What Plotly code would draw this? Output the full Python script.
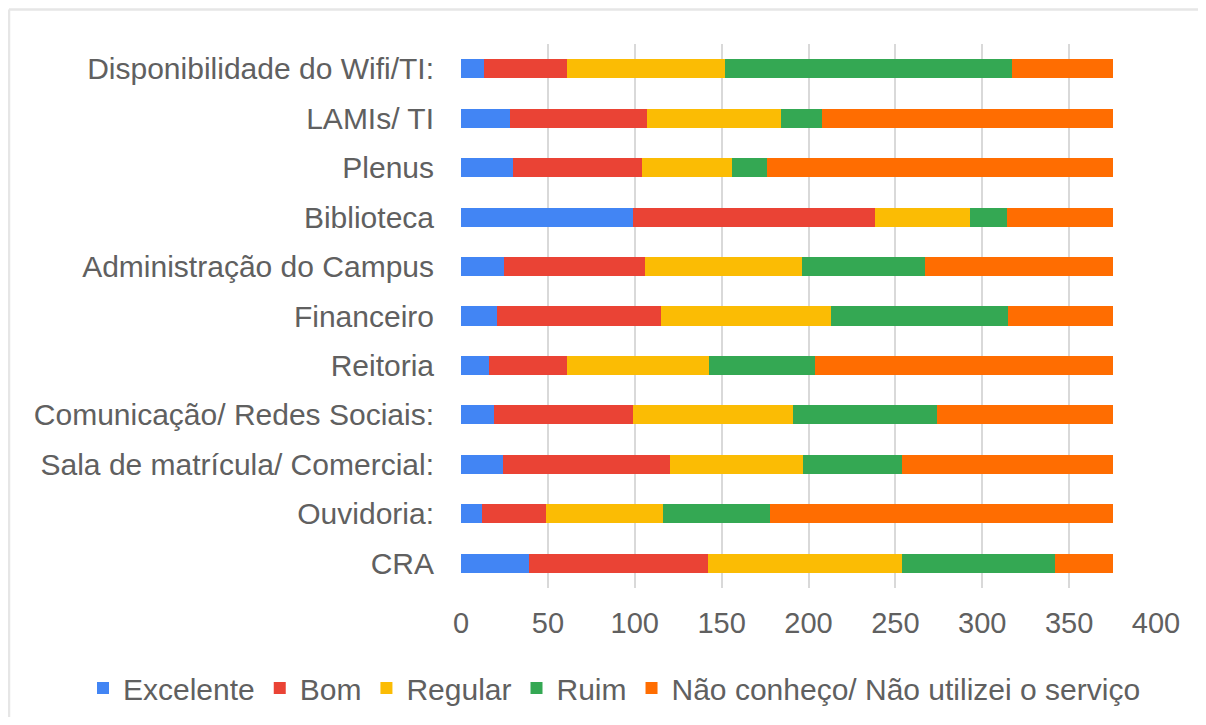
import plotly.graph_objects as go

categories = [
    "Disponibilidade do Wifi/TI:",
    "LAMIs/ TI",
    "Plenus",
    "Biblioteca",
    "Administração do Campus",
    "Financeiro",
    "Reitoria",
    "Comunicação/ Redes Sociais:",
    "Sala de matrícula/ Comercial:",
    "Ouvidoria:",
    "CRA",
]

excelente = [13, 28, 30, 99, 25, 21, 16, 19, 24, 12, 39]
bom       = [48, 79, 74, 139, 81, 94, 45, 80, 96, 37, 103]
regular   = [91, 77, 52, 55, 90, 98, 82, 92, 77, 67, 112]
ruim      = [165, 24, 20, 21, 71, 102, 61, 83, 57, 62, 88]
nao_conheco = [58, 167, 199, 61, 108, 60, 171, 101, 121, 197, 33]

series_names = ["Excelente", "Bom", "Regular", "Ruim",
                "Não conheço/ Não utilizei o serviço"]
series_values = [excelente, bom, regular, ruim, nao_conheco]
series_colors = ["#4285F4", "#EA4335", "#FBBC04", "#34A853", "#FF6D01"]

x_ticks = [0, 50, 100, 150, 200, 250, 300, 350, 400]

FONT = "Liberation Sans, Arial, sans-serif"
TXT = "#606060"

# figure sized to fit inside the page body (8px default body margin)
W, H = 1190, 709
L, R, T, B = 453, 42, 36, 129
PW, PH = W - L - R, H - T - B


def px_x(x):
    return (x - L) / PW


def px_y(y):
    return (H - B - y) / PH


fig = go.Figure()
for name, vals, col in zip(series_names, series_values, series_colors):
    fig.add_trace(go.Bar(
        y=categories, x=vals, name=name, orientation="h",
        marker=dict(color=col, line=dict(width=0)),
    ))

fig.update_layout(
    barmode="stack",
    bargap=0.615,
    width=W, height=H,
    margin=dict(l=L, r=R, t=T, b=B, autoexpand=False),
    paper_bgcolor="white", plot_bgcolor="white",
    font=dict(family=FONT, color=TXT),
    legend=dict(
        orientation="h", xref="paper", yref="paper",
        x=px_x(75), xanchor="left", y=px_y(680), yanchor="middle",
        font=dict(size=30, color=TXT, family=FONT),
        itemwidth=30, traceorder="normal",
    ),
    xaxis=dict(
        range=[0, 400], tickvals=x_ticks, ticktext=[str(t) for t in x_ticks],
        showgrid=True, gridcolor="#d9d9d9", gridwidth=1.5,
        zeroline=False, showline=False, ticks="",
        tickfont=dict(size=29, color=TXT, family=FONT),
        ticklabelstandoff=15,
    ),
    yaxis=dict(
        autorange="reversed", showgrid=False, zeroline=False,
        showline=False, ticks="",
        tickfont=dict(size=30, color=TXT, family=FONT),
        ticklabelstandoff=26,
    ),
    shapes=[
        dict(type="line", xref="paper", yref="paper",
             x0=px_x(1), x1=px_x(W), y0=px_y(1.5), y1=px_y(1.5),
             line=dict(color="#e6e6e6", width=2.5)),
        dict(type="line", xref="paper", yref="paper",
             x0=px_x(1), x1=px_x(1), y0=px_y(1.5), y1=px_y(H),
             line=dict(color="#e6e6e6", width=2.5)),
    ],
)

fig.write_html("out.html")
